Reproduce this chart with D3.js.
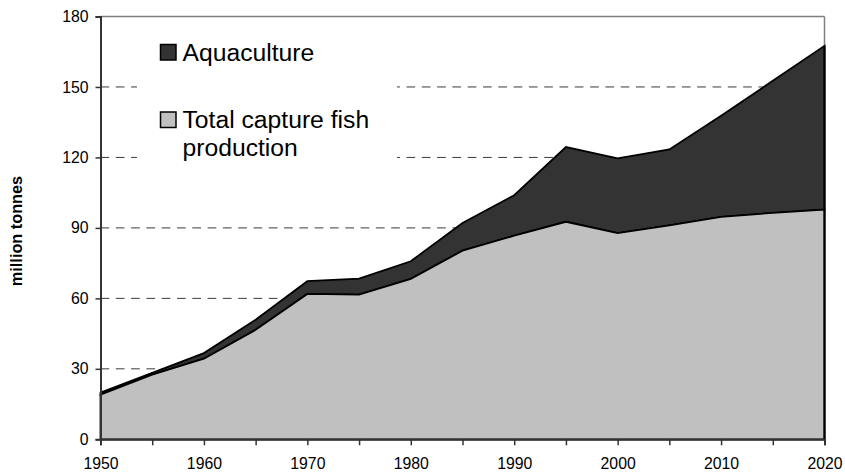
<!DOCTYPE html>
<html>
<head>
<meta charset="utf-8">
<script src="https://cdn.jsdelivr.net/npm/d3@7"></script>
<style>
html,body{margin:0;padding:0;background:#fff;}
svg{display:block;}
text{font-family:"Liberation Sans",Arial,sans-serif;fill:#000;}
</style>
</head>
<body>
<svg id="chart" width="845" height="473"></svg>
<script>
const years = [1950,1955,1960,1965,1970,1975,1980,1985,1990,1995,2000,2005,2010,2015,2020];
const capture = [19,27.5,34.3,46.6,61.9,61.6,68.3,80.3,86.7,92.6,87.8,91.1,94.7,96.4,97.8];
const aquaculture = [0.9,0.8,2.4,4.3,5.4,6.8,7.5,11.8,17.2,31.8,31.8,32.3,43.0,56.2,69.7];
const yTicks = [0,30,60,90,120,150,180];
const xLabelYears = [1950,1960,1970,1980,1990,2000,2010,2020];
const xTickYears = [1950,1955,1960,1965,1970,1975,1980,1985,1990,1995,2000,2005,2010,2015,2020];
const seriesNames = ["Aquaculture","Total capture fish production"];

const svg = d3.select("#chart");
const L = 100.5, R = 824.5, T = 16.5, B = 439.3;
const x = d3.scaleLinear().domain([1950,2020]).range([L,R]);
const y = d3.scaleLinear().domain([0,180]).range([B,T]);

const data = years.map((yr,i)=>({year:yr, cap:capture[i], aq:aquaculture[i]}));

// grid lines
svg.append("g").selectAll("line").data(yTicks.filter(d=>d>0 && d<180)).join("line")
  .attr("x1",L).attr("x2",R)
  .attr("y1",d=>y(d)).attr("y2",d=>y(d))
  .attr("stroke","#3a3a3a").attr("stroke-width",1)
  .attr("stroke-dasharray","8.7,6.6");

// legend white background (hides grid)
svg.append("rect").attr("x",137).attr("y",22).attr("width",260).attr("height",150).attr("fill","#fff");

// areas
const areaTop = d3.area().x(d=>x(d.year)).y0(d=>y(d.cap)).y1(d=>y(d.cap+d.aq));
const areaCap = d3.area().x(d=>x(d.year)).y0(y(0)).y1(d=>y(d.cap));

// frame top and right
svg.append("line").attr("x1",L).attr("x2",R).attr("y1",T).attr("y2",T).attr("stroke","#808080").attr("stroke-width",1.5);
svg.append("line").attr("x1",R).attr("x2",R).attr("y1",T).attr("y2",B).attr("stroke","#808080").attr("stroke-width",1.5);

svg.append("path").datum(data).attr("d",areaTop)
  .attr("fill","#333333").attr("stroke","#000").attr("stroke-width",1.8).attr("stroke-linejoin","miter");
svg.append("path").datum(data).attr("d",areaCap)
  .attr("fill","#c0c0c0").attr("stroke","#000").attr("stroke-width",1.8).attr("stroke-linejoin","miter");

// right edge stroke of areas
svg.append("line").attr("x1",R).attr("x2",R).attr("y1",y(data[data.length-1].cap+data[data.length-1].aq)).attr("y2",B)
  .attr("stroke","#000").attr("stroke-width",2);

// y axis
const yAxis = d3.axisLeft(y).tickValues(yTicks).tickSize(5).tickPadding(7).tickFormat(d3.format("d"));
const gy = svg.append("g").attr("transform",`translate(${L},0)`).call(yAxis);
gy.select(".domain").attr("stroke","#333").attr("stroke-width",2);
gy.selectAll(".tick line").attr("stroke","#333").attr("stroke-width",1.5);
gy.selectAll(".tick text").attr("font-size","15.8px").attr("font-family","Liberation Sans, Arial, sans-serif").attr("fill","#000");

// x axis
const xAxis = d3.axisBottom(x).tickValues(xTickYears).tickSize(6).tickPadding(12.5)
  .tickFormat(d=> xLabelYears.includes(d) ? d3.format("d")(d) : "");
const gx = svg.append("g").attr("transform",`translate(0,${B})`).call(xAxis);
gx.select(".domain").attr("stroke","#333").attr("stroke-width",2);
gx.selectAll(".tick line").attr("stroke","#333").attr("stroke-width",1.5);
gx.selectAll(".tick text").attr("font-size","15.8px").attr("font-family","Liberation Sans, Arial, sans-serif").attr("fill","#000");

// y label
svg.append("text").attr("transform","translate(22,231) rotate(-90)")
  .attr("text-anchor","middle").attr("font-size","16.3px").attr("font-weight","bold")
  .text("million tonnes");

// legend
const lg = svg.append("g");
lg.append("rect").attr("x",160.5).attr("y",44.5).attr("width",15.5).attr("height",15.5)
  .attr("fill","#333333").attr("stroke","#000").attr("stroke-width",1.5);
lg.append("text").attr("x",182.5).attr("y",60.5).attr("font-size","24.7px").text(seriesNames[0]);
lg.append("rect").attr("x",160.5).attr("y",112).attr("width",15.5).attr("height",15.5)
  .attr("fill","#c0c0c0").attr("stroke","#000").attr("stroke-width",1.5);
const t2 = lg.append("text").attr("x",182.5).attr("y",128.3).attr("font-size","24.7px");
t2.append("tspan").attr("x",182.5).text("Total capture fish");
t2.append("tspan").attr("x",182.5).attr("dy",27.4).text("production");
</script>
</body>
</html>
